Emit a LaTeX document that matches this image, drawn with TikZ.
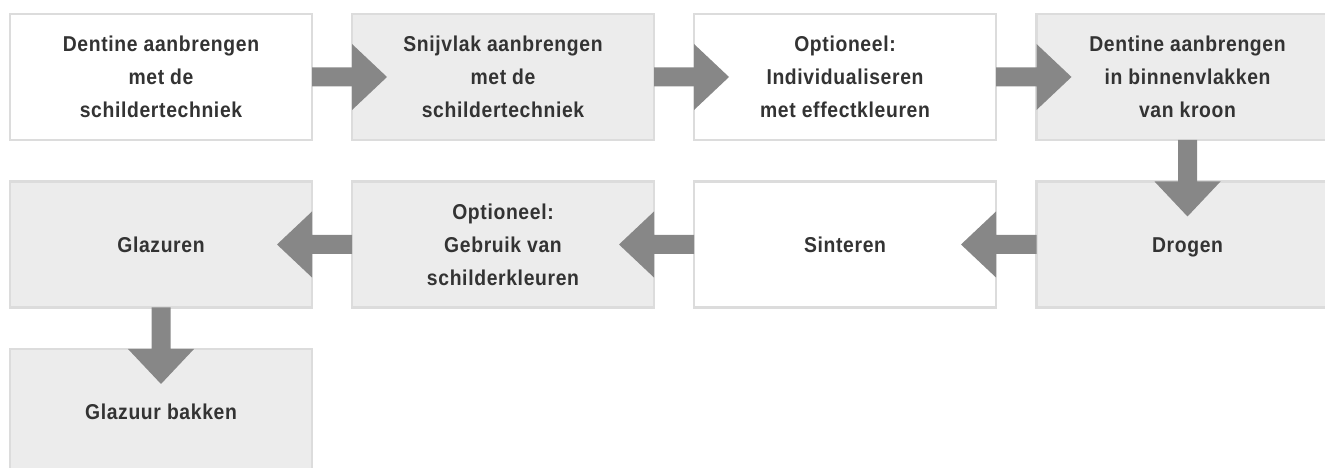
\documentclass[tikz,border=0pt]{standalone}
\usepackage{fontspec}
\setmainfont{Liberation Sans}[FakeStretch=0.9,LetterSpace=3]
\usetikzlibrary{calc}
\definecolor{boxgray}{HTML}{ECECEC}
\definecolor{boxline}{HTML}{DCDCDC}
\definecolor{arrgray}{HTML}{878787}
\definecolor{txtgray}{HTML}{333333}
\tikzset{
  stepbox/.style={draw=boxline, line width=2.5pt, outer sep=0pt, inner sep=2pt,
    minimum width=302pt, minimum height=126pt, align=center, text=txtgray,
    font=\bfseries\fontsize{21.5}{33}\selectfont},
  whitebox/.style={stepbox, fill=white},
  graybox/.style={stepbox, fill=boxgray},
  oneline/.style={text height=15.4pt, text depth=0pt},
  arrc/.style={fill=arrgray}
}
\newcommand\arrRight[2]{\fill[arrc] let \p1=(#1.east), \p2=(#2.west) in
  (\x1,\y1+9.5pt) -- (\x2,\y1+9.5pt) -- (\x2,\y1+33pt) -- (\x2+35pt,\y1) --
  (\x2,\y1-33pt) -- (\x2,\y1-9.5pt) -- (\x1,\y1-9.5pt) -- cycle;}
\newcommand\arrLeft[2]{\fill[arrc] let \p1=(#1.west), \p2=(#2.east) in
  (\x1,\y1+9.5pt) -- (\x2,\y1+9.5pt) -- (\x2,\y1+33pt) -- (\x2-35pt,\y1) --
  (\x2,\y1-33pt) -- (\x2,\y1-9.5pt) -- (\x1,\y1-9.5pt) -- cycle;}
\newcommand\arrDown[2]{\fill[arrc] let \p1=(#1.south), \p2=(#2.north) in
  (\x1-9.5pt,\y1) -- (\x1-9.5pt,\y2) -- (\x1-33pt,\y2) -- (\x1,\y2-35pt) --
  (\x1+33pt,\y2) -- (\x1+9.5pt,\y2) -- (\x1+9.5pt,\y1) -- cycle;}
\begin{document}
\begin{tikzpicture}[x=1pt,y=1pt]
\useasboundingbox (0,0) rectangle (1325,468);
% row 1
\node[whitebox] (b1) at (161,391) {Dentine aanbrengen\\met de\\schildertechniek};
\node[graybox]  (b2) at (503,391) {Snijvlak aanbrengen\\met de\\schildertechniek};
\node[whitebox] (b3) at (845,391) {Optioneel:\\Individualiseren\\met effectkleuren};
\node[graybox]  (b4) at (1187.5,391) {Dentine aanbrengen\\in binnenvlakken\\van kroon};
% row 2
\node[graybox,oneline]  (b5) at (1187.5,223.5) {Drogen};
\node[whitebox,oneline] (b6) at (845,223.5) {Sinteren};
\node[graybox]  (b7) at (503,223.5) {Optioneel:\\Gebruik van\\schilderkleuren};
\node[graybox,oneline]  (b8) at (161,223.5) {Glazuren};
% row 3
\node[graybox,oneline]  (b9) at (161,56) {Glazuur bakken};
% arrows
\arrRight{b1}{b2}
\arrRight{b2}{b3}
\arrRight{b3}{b4}
\arrDown{b4}{b5}
\arrLeft{b5}{b6}
\arrLeft{b6}{b7}
\arrLeft{b7}{b8}
\arrDown{b8}{b9}
\end{tikzpicture}
\end{document}
